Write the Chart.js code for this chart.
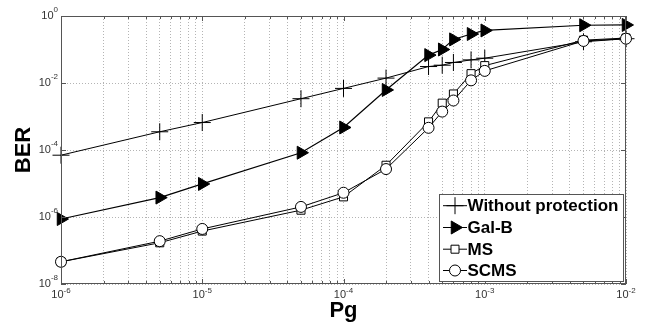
<!DOCTYPE html>
<html>
<head>
<meta charset="utf-8">
<script src="https://cdn.jsdelivr.net/npm/chart.js@4.4.0/dist/chart.umd.min.js"></script>
<style>
html, body { margin: 0; padding: 0; background: #fff; }
#wrap { width: 653px; height: 324px; }
</style>
</head>
<body>
<div id="wrap"><canvas id="c" width="653" height="324"></canvas></div>
<script>
// data
const pg = [1e-6, 5e-6, 1e-5, 5e-5, 1e-4, 2e-4, 4e-4, 5e-4, 6e-4, 8e-4, 1e-3, 5e-3, 1e-2];
const berWithout = [7e-5, 3.5e-4, 6.6e-4, 3.4e-3, 6.9e-3, 1.4e-2, 3.1e-2, 3.4e-2, 4.1e-2, 4.9e-2, 5.5e-2, 0.17, 0.21];
const berGalB = [8.7e-7, 3.8e-6, 9.7e-6, 8.3e-5, 4.7e-4, 6.2e-3, 0.068, 0.10, 0.20, 0.29, 0.37, 0.53, 0.54];
const berMS = [4.6e-8, 1.7e-7, 3.8e-7, 1.6e-6, 4.0e-6, 3.5e-5, 6.9e-4, 2.5e-3, 4.7e-3, 0.019, 0.033, 0.19, 0.22];
const berSCMS = [4.6e-8, 1.9e-7, 4.4e-7, 2.0e-6, 5.3e-6, 2.7e-5, 4.6e-4, 1.4e-3, 3.0e-3, 0.012, 0.023, 0.18, 0.21];
const seriesNames = ['Without protection', 'Gal-B', 'MS', 'SCMS'];
const xDecades = [-6, -5, -4, -3, -2];
const yDecades = [-8, -6, -4, -2, 0];

const FONT = '"Liberation Sans", Arial, sans-serif';

// log ticks 1..9 x 10^n for the x grid
const xTicks = [];
xDecades.forEach((e, i) => {
  if (i === xDecades.length - 1) { xTicks.push(Math.pow(10, e)); return; }
  for (let m = 1; m <= 9; m++) xTicks.push(m * Math.pow(10, e));
});
const yTicks = yDecades.map(e => Math.pow(10, e));

const pts = ys => pg.map((x, i) => ({ x: x, y: ys[i] }));

function drawPow(ctx, exp, x, y, align, rise) {
  ctx.fillStyle = '#333';
  ctx.textBaseline = 'middle';
  ctx.textAlign = 'left';
  ctx.font = '11px ' + FONT;
  const wb = ctx.measureText('10').width;
  ctx.font = '8px ' + FONT;
  const sup = String(exp);
  const ws = ctx.measureText(sup).width;
  const left = align === 'center' ? x - (wb + ws) / 2 : x - wb - ws;
  ctx.font = '11px ' + FONT;
  ctx.fillText('10', left, y);
  ctx.font = '8px ' + FONT;
  ctx.fillText(sup, left + wb, y - rise);
}

function drawMarker(ctx, kind, x, y) {
  ctx.save();
  ctx.strokeStyle = '#000';
  ctx.lineWidth = 1;
  ctx.beginPath();
  if (kind === 0) {
    ctx.moveTo(x - 8.5, y); ctx.lineTo(x + 8.5, y);
    ctx.moveTo(x, y - 8.5); ctx.lineTo(x, y + 8.5);
    ctx.stroke();
  } else if (kind === 1) {
    ctx.moveTo(x + 7.5, y);
    ctx.lineTo(x - 3.75, y - 6.5);
    ctx.lineTo(x - 3.75, y + 6.5);
    ctx.closePath();
    ctx.fillStyle = '#000'; ctx.fill(); ctx.stroke();
  } else if (kind === 2) {
    ctx.rect(x - 4, y - 4, 8, 8);
    ctx.fillStyle = '#fff'; ctx.fill(); ctx.stroke();
  } else {
    ctx.arc(x, y, 5.5, 0, Math.PI * 2);
    ctx.fillStyle = '#fff'; ctx.fill(); ctx.stroke();
  }
  ctx.restore();
}

const decor = {
  id: 'decor',
  afterDraw(chart) {
    const ctx = chart.ctx;
    const a = chart.chartArea;
    const xs = chart.scales.x, ys = chart.scales.y;
    ctx.save();
    // axes box
    ctx.strokeStyle = '#555';
    ctx.lineWidth = 1;
    ctx.strokeRect(Math.round(a.left) + 0.5, Math.round(a.top) + 0.5, Math.round(a.right - a.left) - 1, Math.round(a.bottom - a.top) - 1);
    // x tick marks, top and bottom
    ctx.beginPath();
    xTicks.forEach(v => {
      const px = Math.round(xs.getPixelForValue(v)) + 0.5;
      const major = Math.abs(Math.log10(v) - Math.round(Math.log10(v))) < 1e-9;
      const len = major ? 5 : 3;
      ctx.moveTo(px, a.bottom); ctx.lineTo(px, a.bottom - len);
      ctx.moveTo(px, a.top); ctx.lineTo(px, a.top + len);
    });
    yTicks.forEach(v => {
      const py = Math.round(ys.getPixelForValue(v)) + 0.5;
      ctx.moveTo(a.left, py); ctx.lineTo(a.left + 5, py);
      ctx.moveTo(a.right, py); ctx.lineTo(a.right - 5, py);
    });
    ctx.stroke();
    // tick labels
    xDecades.forEach(e => drawPow(ctx, e, xs.getPixelForValue(Math.pow(10, e)), a.bottom + 11, 'center', 4.5));
    yDecades.forEach(e => drawPow(ctx, e, ys.getPixelForValue(Math.pow(10, e)), 0, 'right', 6));
    ctx.restore();

    // legend
    ctx.save();
    const bx = 439.5, by = 194.5, bw = 184, bh = 87;
    ctx.fillStyle = '#fff';
    ctx.fillRect(bx, by, bw, bh);
    ctx.strokeStyle = '#555';
    ctx.lineWidth = 1;
    ctx.strokeRect(bx, by, bw, bh);
    const rows = [205.7, 227.5, 249.2, 270.5];
    seriesNames.forEach((name, i) => {
      const ry = rows[i];
      ctx.strokeStyle = '#000';
      ctx.beginPath();
      ctx.moveTo(443, ry); ctx.lineTo(467, ry);
      ctx.stroke();
      drawMarker(ctx, i, 455, ry);
      ctx.fillStyle = '#000';
      ctx.font = 'bold 17px ' + FONT;
      ctx.textBaseline = 'middle';
      ctx.textAlign = 'left';
      ctx.fillText(name, 467.5, ry + 1);
    });
    ctx.restore();
  }
};

// y tick labels need x position, patch drawPow call for y axis
const origDraw = drawPow;
drawPow = function (ctx, exp, a, b, align, rise) {
  if (align === 'right') return origDraw(ctx, exp, 58, a, 'right', rise);
  return origDraw(ctx, exp, a, b, align, rise);
};

new Chart(document.getElementById('c'), {
  type: 'line',
  data: {
    datasets: [
      {
        label: seriesNames[0], data: pts(berWithout), order: 3,
        borderColor: '#000', borderWidth: 1, pointStyle: 'cross', pointRadius: 8.5,
        pointBorderColor: '#000', pointBorderWidth: 1, clip: false
      },
      {
        label: seriesNames[1], data: pts(berGalB), order: 2,
        borderColor: '#000', borderWidth: 1.2, pointStyle: 'triangle', rotation: 90, pointRadius: 7.5,
        pointBackgroundColor: '#000', pointBorderColor: '#000', pointBorderWidth: 1, clip: false
      },
      {
        label: seriesNames[2], data: pts(berMS), order: 1,
        borderColor: '#000', borderWidth: 1, pointStyle: 'rect', pointRadius: 5.7,
        pointBackgroundColor: '#fff', pointBorderColor: '#000', pointBorderWidth: 1, clip: false
      },
      {
        label: seriesNames[3], data: pts(berSCMS), order: 0,
        borderColor: '#000', borderWidth: 1, pointStyle: 'circle', pointRadius: 5.5,
        pointBackgroundColor: '#fff', pointBorderColor: '#000', pointBorderWidth: 1, clip: false
      }
    ]
  },
  options: {
    responsive: false,
    animation: false,
    devicePixelRatio: 1,
    layout: { padding: { top: 16, right: 27, left: 0, bottom: 0 } },
    plugins: { legend: { display: false }, tooltip: { enabled: false } },
    scales: {
      x: {
        type: 'logarithmic', min: 1e-6, max: 1e-2,
        afterBuildTicks: s => { s.ticks = xTicks.map(v => ({ value: v })); },
        afterFit: s => { s.height = 40; },
        ticks: { display: false },
        grid: { color: '#b4b4b4', drawTicks: false, lineWidth: 1 },
        border: { display: false, dash: [1, 2] },
        title: { display: true, text: 'Pg', color: '#000', font: { family: FONT, size: 22, weight: 'bold' }, padding: { top: 0, bottom: 0 } }
      },
      y: {
        type: 'logarithmic', min: 1e-8, max: 1,
        afterBuildTicks: s => { s.ticks = yTicks.map(v => ({ value: v })); },
        afterFit: s => { s.width = 61; },
        ticks: { display: false },
        grid: { color: '#b4b4b4', drawTicks: false, lineWidth: 1 },
        border: { display: false, dash: [1, 2] },
        title: { display: true, text: 'BER', color: '#000', font: { family: FONT, size: 22, weight: 'bold' }, padding: { top: 11, bottom: 0 } }
      }
    }
  },
  plugins: [decor]
});
</script>
</body>
</html>
